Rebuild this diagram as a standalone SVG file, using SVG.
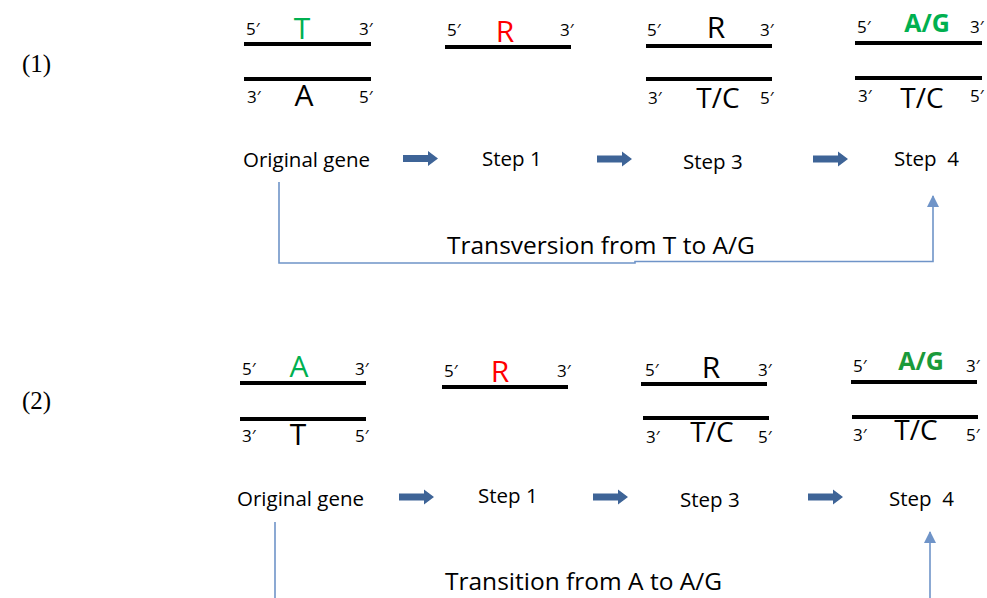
<svg xmlns="http://www.w3.org/2000/svg" width="987" height="598" viewBox="0 0 987 598">
<defs>
<style>
text{font-family:"Open Sans","DejaVu Sans",sans-serif;fill:#000}
.p{font-size:17px}
.b{font-size:30px;text-anchor:middle}
.tc{font-size:28px;text-anchor:middle}
.ag{font-size:25px;font-weight:bold;text-anchor:middle}
.g{fill:#00b050}
.g2{fill:#1a9a3a}
.r{fill:#ff0000}
.lbl{font-size:20.5px}
.big{font-size:24.5px}
.num{font-family:"Liberation Serif","Times New Roman",serif;font-size:25px}
.s{stroke:#000;stroke-width:4;fill:none}
.ba{fill:#3e6497}
.con{stroke:#6f94c8;stroke-width:1.6;fill:none}
</style>
<marker id="ah" viewBox="0 0 12 12" refX="11" refY="6" markerWidth="12" markerHeight="12" markerUnits="userSpaceOnUse" orient="auto">
<path d="M0,0 L12,6 L0,12 z" fill="#6f94c8"/>
</marker>
<path id="blk" d="M0,-3.5 H25 V-7.5 L35,0 L25,7.5 V3.5 H0 z"/>
</defs>

<text class="num" x="22" y="72">(1)</text>
<text class="num" x="22" y="409">(2)</text>

<!-- Panel 1 -->
<g id="p1-orig">
<line class="s" x1="244" y1="44" x2="371" y2="44"/>
<line class="s" x1="244" y1="79" x2="371" y2="79"/>
<text class="p" x="246" y="35">5′</text>
<text class="b g" x="302" y="39">T</text>
<text class="p" x="359" y="35">3′</text>
<text class="p" x="247" y="103">3′</text>
<text class="b" x="304" y="106">A</text>
<text class="p" x="359" y="103">5′</text>
</g>
<g id="p1-step1">
<line class="s" x1="445" y1="47" x2="571" y2="47"/>
<text class="p" x="447" y="36">5′</text>
<text class="b r" x="505" y="42">R</text>
<text class="p" x="560" y="36">3′</text>
</g>
<g id="p1-step3">
<line class="s" x1="646" y1="46" x2="772" y2="46"/>
<line class="s" x1="646" y1="79" x2="772" y2="79"/>
<text class="p" x="647" y="36">5′</text>
<text class="b" x="716" y="38">R</text>
<text class="p" x="760" y="36">3′</text>
<text class="p" x="648" y="104">3′</text>
<text class="tc" x="718" y="108">T/C</text>
<text class="p" x="760" y="104">5′</text>
</g>
<g id="p1-step4">
<line class="s" x1="855" y1="43" x2="982" y2="43"/>
<line class="s" x1="855" y1="78" x2="982" y2="78"/>
<text class="p" x="857" y="33">5′</text>
<text class="ag g" x="927" y="32">A/G</text>
<text class="p" x="970" y="33">3′</text>
<text class="p" x="858" y="102">3′</text>
<text class="tc" x="922" y="108">T/C</text>
<text class="p" x="970" y="102">5′</text>
</g>
<g id="p1-row">
<text class="lbl" x="243" y="167">Original gene</text>
<text class="lbl" x="482" y="166">Step 1</text>
<text class="lbl" x="683" y="169">Step 3</text>
<text class="lbl" x="894" y="166" xml:space="preserve">Step  4</text>
</g>

<!-- Panel 2 -->
<g id="p2-orig">
<line class="s" x1="240" y1="383" x2="366" y2="383"/>
<line class="s" x1="240" y1="419" x2="366" y2="419"/>
<text class="p" x="242" y="375">5′</text>
<text class="b g" x="299" y="377">A</text>
<text class="p" x="355" y="375">3′</text>
<text class="p" x="242" y="442">3′</text>
<text class="b" x="298" y="445">T</text>
<text class="p" x="355" y="442">5′</text>
</g>
<g id="p2-step1">
<line class="s" x1="442" y1="387" x2="568" y2="387"/>
<text class="p" x="444" y="377">5′</text>
<text class="b r" x="500" y="382">R</text>
<text class="p" x="557" y="377">3′</text>
</g>
<g id="p2-step3">
<line class="s" x1="641" y1="384" x2="767" y2="384"/>
<line class="s" x1="643" y1="418" x2="769" y2="418"/>
<text class="p" x="645" y="376">5′</text>
<text class="b" x="711" y="378">R</text>
<text class="p" x="758" y="376">3′</text>
<text class="p" x="646" y="443">3′</text>
<text class="tc" x="712" y="442">T/C</text>
<text class="p" x="758" y="443">5′</text>
</g>
<g id="p2-step4">
<line class="s" x1="851" y1="382" x2="977" y2="382"/>
<line class="s" x1="852" y1="417" x2="978" y2="417"/>
<text class="p" x="853" y="372">5′</text>
<text class="ag g2" x="921" y="370">A/G</text>
<text class="p" x="966" y="372">3′</text>
<text class="p" x="853" y="441">3′</text>
<text class="tc" x="916" y="440">T/C</text>
<text class="p" x="966" y="441">5′</text>
</g>
<g id="p2-row">
<text class="lbl" x="237" y="506">Original gene</text>
<text class="lbl" x="478" y="503">Step 1</text>
<text class="lbl" x="680" y="507">Step 3</text>
<text class="lbl" x="889" y="506" xml:space="preserve">Step  4</text>
</g>

<!-- Connectors -->
<g id="connectors">
<use href="#blk" class="ba" x="403" y="158.5"/>
<use href="#blk" class="ba" x="597" y="159"/>
<use href="#blk" class="ba" x="813" y="159"/>
<use href="#blk" class="ba" x="399" y="497"/>
<use href="#blk" class="ba" x="593" y="497"/>
<use href="#blk" class="ba" x="808" y="497"/>
<polyline class="con" points="279,182 279,263 635,263 635,261.5 933,261.5 933,196" marker-end="url(#ah)"/>
<line class="con" x1="275" y1="522" x2="275" y2="598"/>
<line class="con" x1="930" y1="598" x2="930" y2="532" marker-end="url(#ah)"/>
<text class="big" x="447" y="254">Transversion from T to A/G</text>
<text class="big" x="445" y="590">Transition from A to A/G</text>
</g>
</svg>
